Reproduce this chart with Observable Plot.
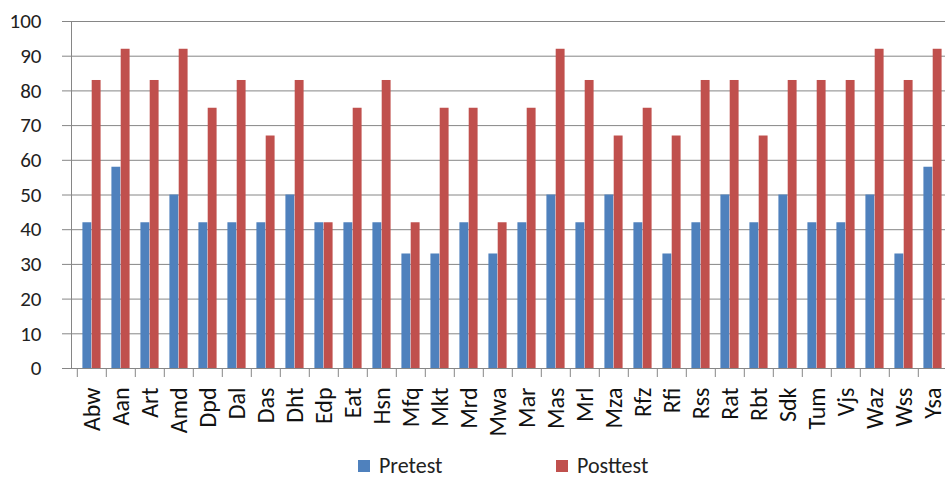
<!DOCTYPE html>
<html>
<head>
<meta charset="utf-8">
<script src="https://cdn.jsdelivr.net/npm/d3@7"></script>
<script src="https://cdn.jsdelivr.net/npm/@observablehq/plot@0.6"></script>
<style>
  html, body { margin: 0; padding: 0; background: #fff; overflow: hidden; }
  #wrap { width: 945px; height: 480px; overflow: hidden; position: relative; font-family: Carlito, Lato, sans-serif; }
  #chart svg { max-width: none !important; display: block; }
  #legend { position: absolute; top: 455px; left: 0; width: 945px; height: 22px; font-size: 22px; line-height: 22px; color: #222; }
  .item { position: absolute; top: 0; height: 22px; display: flex; align-items: center; }
  .sw { width: 12px; height: 12px; margin-right: 9px; }
</style>
</head>
<body>
<div id="wrap">
  <div id="chart"></div>
  <div id="legend"></div>
</div>
<script>
const categories = ["Abw","Aan","Art","Amd","Dpd","Dal","Das","Dht","Edp","Eat","Hsn","Mfq","Mkt","Mrd","Mwa","Mar","Mas","Mrl","Mza","Rfz","Rfi","Rss","Rat","Rbt","Sdk","Tum","Vjs","Waz","Wss","Ysa"];
const pretest  = [42,58,42,50,42,42,42,50,42,42,42,33,33,42,33,42,50,42,50,42,33,42,50,42,50,42,42,50,33,58];
const posttest = [83,92,83,92,75,83,67,83,42,75,83,42,75,75,42,75,92,83,67,75,67,83,83,67,83,83,83,92,83,92];
const seriesNames = ["Pretest","Posttest"];
const seriesColors = ["#4F81BD","#C0504D"];
const yTicks = d3.range(0, 101, 10);

const width = 960, marginLeft = 71, marginRight = 7;
const bw = (width - marginLeft - marginRight) / categories.length;
const barW = bw * 0.316;
const pad = (bw - 2 * barW) / 2;

const preData = categories.map((c, i) => ({name: c, value: pretest[i]}));
const postData = categories.map((c, i) => ({name: c, value: posttest[i]}));

const chart = Plot.plot({
  width, height: 445,
  marginLeft, marginRight, marginTop: 21, marginBottom: 77,
  style: {fontFamily: "Carlito, Lato, sans-serif", fontSize: "21px", color: "#222", background: "#fff", overflow: "visible", maxWidth: "none"},
  x: {domain: categories, padding: 0},
  y: {domain: [0, 100]},
  marks: [
    Plot.gridY({ticks: yTicks.slice(1), stroke: "#868686", strokeOpacity: 1}),
    Plot.barY(preData, {x: "name", y: "value", fill: seriesColors[0], insetLeft: pad, insetRight: pad + barW}),
    Plot.barY(postData, {x: "name", y: "value", fill: seriesColors[1], insetLeft: pad + barW, insetRight: pad}),
    Plot.ruleY([0], {stroke: "#868686"}),
    Plot.frame({anchor: "left", stroke: "#868686"}),
    Plot.axisY({ticks: yTicks, tickSize: 9, tickPadding: 21, stroke: "#868686", fill: "#222", fontSize: 21, label: null}),
    Plot.axisX({ticks: categories, tickSize: 9, dx: -bw / 2, text: null, stroke: "#868686", label: null}),
    Plot.axisX({ticks: categories, tickSize: 0, tickRotate: -90, tickPadding: 19, fill: "#111", fontSize: 24, label: null})
  ]
});
document.getElementById("chart").appendChild(chart);

const legend = document.getElementById("legend");
const lefts = [358, 556];
seriesNames.forEach((s, i) => {
  const it = document.createElement("div");
  it.className = "item";
  it.style.left = lefts[i] + "px";
  it.innerHTML = `<span class="sw" style="background:${seriesColors[i]}"></span><span>${s}</span>`;
  legend.appendChild(it);
});
</script>
</body>
</html>
